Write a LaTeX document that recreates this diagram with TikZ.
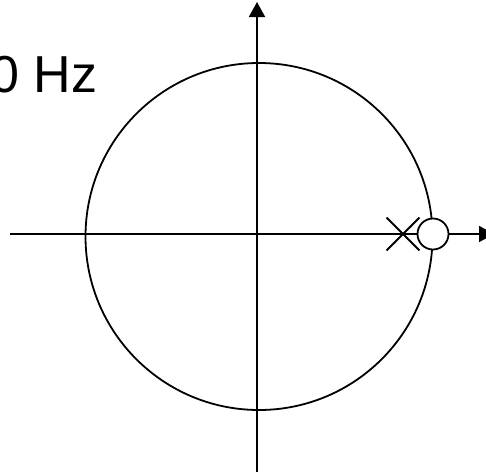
\documentclass[tikz,border=0pt]{standalone}
\usepackage{fontspec}
\setmainfont{Liberation Sans}
\usetikzlibrary{arrows.meta,shapes.misc}
\begin{document}
\begin{tikzpicture}[x=1pt,y=-1pt,
  axis/.style={line width=1.9pt,-{Triangle[length=15pt,width=16pt]}},
  curve/.style={line width=1.8pt},
  zero/.style={circle,draw,line width=1.8pt,fill=white,minimum size=31pt,inner sep=0pt},
  pole/.style={cross out,draw,line width=1.8pt,minimum size=31pt,inner sep=0pt},
  label/.style={inner sep=0pt,anchor=base west,font=\fontsize{52}{60}\selectfont}]
\useasboundingbox (0,0) rectangle (486,474);
\clip (0,0) rectangle (486,474);
\node[circle,draw,curve,minimum size=347pt,inner sep=0pt] (uc) at (259,236.5) {};
\coordinate (xl) at (10,234);
\coordinate (xr) at (494,234);
\coordinate (yb) at (257,472);
\coordinate (yt) at (257,2);
\draw[axis] (xl) -- (xr);
\draw[axis] (yb) -- (yt);
\node[pole] (p) at (403,234) {};
\node[zero] (z) at (433,234) {};
\node[label] (t) at (-9.8,92.7) {0 Hz};
\end{tikzpicture}
\end{document}
